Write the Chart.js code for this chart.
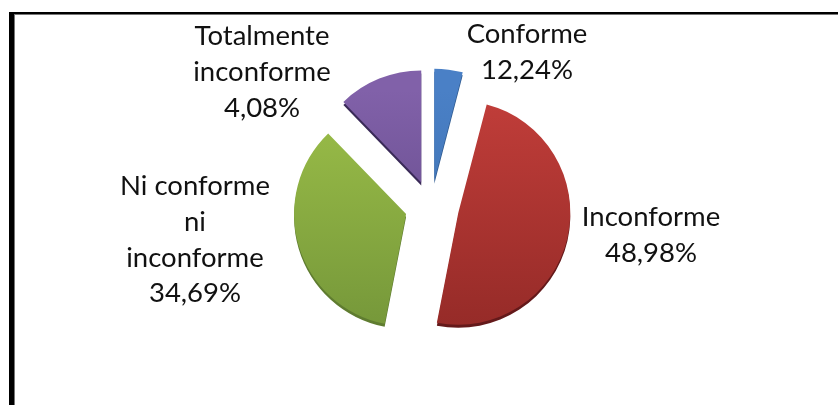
<!DOCTYPE html>
<html lang="es">
<head>
    <meta charset="UTF-8">
    <title>Conformidad</title>
    <script src="https://cdn.jsdelivr.net/npm/chart.js"></script>
    <style>
        html, body { margin: 0; padding: 0; background: #fff; overflow: hidden; }
        #frame {
            position: absolute; left: 9px; top: 12px; right: 0; bottom: 0;
            border-left: 5px solid #000;
            border-top: 2px solid #000;
            box-shadow: inset 1px 1px 0 #777;
        }
        #pie { position: absolute; left: 0; top: 0; }
    </style>
</head>
<body>
<div id="frame"></div>
<canvas id="pie" width="838" height="405"></canvas>

<script>
    // Slice sizes as drawn, clockwise from 12 o'clock
    const categories = ['Conforme', 'Inconforme', 'Ni conforme ni inconforme', 'Totalmente inconforme'];
    const sliceValues = [4.08, 48.98, 34.69, 12.24];

    // Label text as printed in the picture (the first and last percentages are swapped there)
    const labelLines = [
        ['Conforme', '12,24%'],
        ['Inconforme', '48,98%'],
        ['Ni conforme', 'ni', 'inconforme', '34,69%'],
        ['Totalmente', 'inconforme', '4,08%']
    ];

    // Styling and placement
    const labelX = [527, 651, 195, 262];
    const labelY = [43, 226, 195, 45];
    const lineGap = 35.8;
    const gradTop = ['#4a80c6', '#c23e3a', '#9dc049', '#8161a9'];
    const gradBottom = ['#3a6dab', '#962b28', '#76983a', '#5c4482'];
    const rimColors = ['#2f5a90', '#64191a', '#5f7c30', '#3a2a58'];
    const explode = [26, 28, 26, 26];
    const pieRadius = 112;

    function sliceGradient(ctx) {
        const c = ctx.chart.ctx;
        const g = c.createLinearGradient(0, 90, 0, 325);
        g.addColorStop(0, gradTop[ctx.dataIndex]);
        g.addColorStop(1, gradBottom[ctx.dataIndex]);
        return g;
    }

    const piePlugin = {
        id: 'piePlugin',
        // pull each slice out along its own mid angle, the arc offset option also changes its radius
        afterDatasetsUpdate(chart) {
            chart.getDatasetMeta(0).data.forEach((arc, i) => {
                const mid = (arc.startAngle + arc.endAngle) / 2;
                arc.x += Math.cos(mid) * explode[i];
                arc.y += Math.sin(mid) * explode[i];
            });
        },
        // dark rim under each slice
        beforeDatasetDraw(chart) {
            const ctx = chart.ctx;
            chart.getDatasetMeta(0).data.forEach((arc, i) => {
                const fill = arc.options.backgroundColor;
                arc.options.backgroundColor = rimColors[i];
                ctx.save();
                ctx.translate(0, 3);
                arc.draw(ctx);
                ctx.restore();
                arc.options.backgroundColor = fill;
            });
        },
        afterDraw(chart) {
            const ctx = chart.ctx;
            ctx.save();
            ctx.font = '27.5px Lato';
            ctx.fillStyle = '#111';
            ctx.textAlign = 'center';
            ctx.textBaseline = 'alphabetic';
            labelLines.forEach((lines, i) => {
                lines.forEach((line, j) => {
                    ctx.fillText(line, labelX[i], labelY[i] + j * lineGap);
                });
            });
            ctx.restore();
        }
    };

    new Chart(document.getElementById('pie').getContext('2d'), {
        type: 'pie',
        data: {
            labels: categories,
            datasets: [{
                data: sliceValues,
                backgroundColor: sliceGradient,
                borderWidth: 0,
                radius: pieRadius
            }]
        },
        options: {
            responsive: false,
            animation: false,
            layout: { padding: { left: 24, top: 8 } },
            plugins: {
                legend: { display: false },
                tooltip: { enabled: false }
            }
        },
        plugins: [piePlugin]
    });
</script>
</body>
</html>
